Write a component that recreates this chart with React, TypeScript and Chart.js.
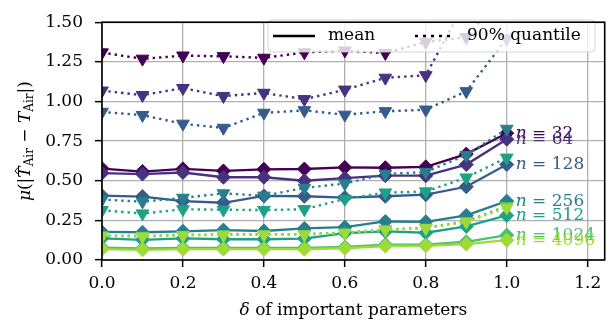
import React, { useEffect, useRef } from "react";
import { Chart, registerables } from "chart.js";

Chart.register(...registerables);

const deltas = [0, 0.1, 0.2, 0.3, 0.4, 0.5, 0.6, 0.7, 0.8, 0.9, 1.0];
const sampleSizes = [32, 64, 128, 256, 512, 1024, 4096];
const seriesColors = ["#440154", "#46327e", "#365c8d", "#277f8e", "#1fa187", "#4ac16d", "#a0da39"];

const mean32 = [0.577, 0.558, 0.575, 0.562, 0.572, 0.574, 0.584, 0.582, 0.588, 0.668, 0.8];
const mean64 = [0.548, 0.542, 0.552, 0.522, 0.522, 0.5, 0.516, 0.532, 0.532, 0.602, 0.762];
const mean128 = [0.406, 0.4, 0.371, 0.361, 0.404, 0.402, 0.394, 0.402, 0.412, 0.462, 0.602];
const mean256 = [0.177, 0.175, 0.181, 0.189, 0.183, 0.199, 0.207, 0.243, 0.241, 0.281, 0.371];
const mean512 = [0.137, 0.127, 0.136, 0.131, 0.131, 0.135, 0.17, 0.18, 0.172, 0.212, 0.281];
const mean1024 = [0.078, 0.073, 0.077, 0.077, 0.077, 0.077, 0.082, 0.097, 0.097, 0.115, 0.157];
const mean4096 = [0.068, 0.064, 0.068, 0.068, 0.068, 0.068, 0.074, 0.088, 0.09, 0.1, 0.125];

const q32 = [1.309, 1.269, 1.289, 1.285, 1.275, 1.309, 1.321, 1.305, 1.375, 1.405, 1.7];
const q64 = [1.068, 1.04, 1.084, 1.034, 1.054, 1.014, 1.074, 1.149, 1.165, 1.64, 2.0];
const q128 = [0.934, 0.914, 0.859, 0.833, 0.928, 0.944, 0.916, 0.938, 0.948, 1.064, 1.396];
const q256 = [0.381, 0.368, 0.392, 0.42, 0.405, 0.455, 0.482, 0.542, 0.555, 0.662, 0.827];
const q512 = [0.314, 0.293, 0.32, 0.317, 0.315, 0.32, 0.385, 0.425, 0.432, 0.52, 0.645];
const q1024 = [0.155, 0.152, 0.158, 0.162, 0.162, 0.163, 0.173, 0.193, 0.203, 0.245, 0.34];
const q4096 = [0.15, 0.148, 0.155, 0.158, 0.16, 0.16, 0.17, 0.19, 0.2, 0.24, 0.33];

const meanSeries = [mean32, mean64, mean128, mean256, mean512, mean1024, mean4096];
const quantileSeries = [q32, q64, q128, q256, q512, q1024, q4096];

const xTicks = [0, 0.2, 0.4, 0.6, 0.8, 1.0, 1.2];
const yTicks = [0, 0.25, 0.5, 0.75, 1.0, 1.25, 1.5];

const FAMILY = '"DejaVu Serif", serif';
const F = (size: number, italic = false) => `${italic ? "italic " : ""}${size}px ${FAMILY}`;

type Seg = { t: string; f: string; dy?: number; hat?: boolean };

function drawSegs(ctx: CanvasRenderingContext2D, segs: Seg[], x0: number, y0: number, align: "left" | "center", color: string) {
  let total = 0;
  const widths = segs.map((s) => {
    ctx.font = s.f;
    const w = ctx.measureText(s.t).width;
    total += w;
    return w;
  });
  let x = align === "center" ? x0 - total / 2 : x0;
  ctx.fillStyle = color;
  ctx.strokeStyle = color;
  ctx.textAlign = "left";
  ctx.textBaseline = "middle";
  segs.forEach((s, i) => {
    ctx.font = s.f;
    ctx.fillText(s.t, x, y0 + (s.dy || 0));
    if (s.hat) {
      const w = widths[i];
      ctx.lineWidth = 1;
      ctx.beginPath();
      ctx.moveTo(x + w * 0.3, y0 - 8);
      ctx.lineTo(x + w * 0.6, y0 - 11);
      ctx.lineTo(x + w * 0.9, y0 - 8);
      ctx.stroke();
    }
    x += widths[i];
  });
}

const overlayPlugin = {
  id: "overlay",
  afterDatasetsDraw(chart: any) {
    const { ctx, chartArea, scales } = chart;
    const { left, right, top, bottom } = chartArea;
    const xs = scales.x;
    const ys = scales.y;
    ctx.save();

    // series labels at right end
    sampleSizes.forEach((n, i) => {
      const vals = meanSeries[i];
      const px = xs.getPixelForValue(deltas[deltas.length - 1]) + 9;
      const py = ys.getPixelForValue(vals[vals.length - 1]);
      drawSegs(ctx, [{ t: "n", f: F(17, true) }, { t: " = " + n, f: F(17) }], px, py, "left", seriesColors[i]);
    });

    // legend box
    ctx.beginPath();
    (ctx as any).roundRect(268, 20, 327, 32, 4);
    ctx.fillStyle = "rgba(255,255,255,0.8)";
    ctx.fill();
    ctx.strokeStyle = "rgba(204,204,204,0.8)";
    ctx.lineWidth = 1;
    ctx.stroke();
    ctx.strokeStyle = "#000";
    ctx.lineWidth = 2.5;
    ctx.setLineDash([]);
    ctx.beginPath();
    ctx.moveTo(273, 36);
    ctx.lineTo(315, 36);
    ctx.stroke();
    ctx.setLineDash([3, 5]);
    ctx.beginPath();
    ctx.moveTo(415, 36);
    ctx.lineTo(453, 36);
    ctx.stroke();
    ctx.setLineDash([]);
    drawSegs(ctx, [{ t: "mean", f: F(17) }], 328, 36, "left", "#000");
    drawSegs(ctx, [{ t: "90% quantile", f: F(17) }], 467, 36, "left", "#000");

    // spines
    ctx.strokeStyle = "#000";
    ctx.lineWidth = 1.6;
    ctx.strokeRect(left, top, right - left, bottom - top);

    // x title
    drawSegs(ctx, [{ t: "δ", f: F(17, true) }, { t: " of important parameters", f: F(17) }], (left + right) / 2, 311, "center", "#000");

    // y title
    ctx.translate(26, (top + bottom) / 2);
    ctx.rotate(-Math.PI / 2);
    drawSegs(
      ctx,
      [
        { t: "μ", f: F(17, true) },
        { t: "(|", f: F(17) },
        { t: "T", f: F(17, true), hat: true },
        { t: "Air", f: F(12), dy: 4 },
        { t: " − ", f: F(17) },
        { t: "T", f: F(17, true) },
        { t: "Air", f: F(12), dy: 4 },
        { t: "|)", f: F(17) },
      ],
      0,
      0,
      "center",
      "#000"
    );
    ctx.restore();
  },
};

export default function App() {
  const ref = useRef<HTMLCanvasElement | null>(null);
  useEffect(() => {
    if (!ref.current) return;
    Chart.defaults.font.family = FAMILY;
    Chart.defaults.font.size = 17;
    Chart.defaults.color = "#000";

    const datasets: any[] = [];
    sampleSizes.forEach((n, i) => {
      datasets.push({
        label: `mean n=${n}`,
        data: deltas.map((d, k) => ({ x: d, y: meanSeries[i][k] })),
        borderColor: seriesColors[i],
        backgroundColor: seriesColors[i],
        borderWidth: 2.3,
        pointStyle: "rectRot",
        pointRadius: 7,
        pointBorderWidth: 1,
        clip: 0,
        order: -(i * 2),
      });
      datasets.push({
        label: `q90 n=${n}`,
        data: deltas.map((d, k) => ({ x: d, y: quantileSeries[i][k] })),
        borderColor: seriesColors[i],
        backgroundColor: seriesColors[i],
        borderWidth: 2.4,
        borderDash: [2.4, 4],
        pointStyle: "triangle",
        pointRotation: 180,
        pointRadius: 7.3,
        pointBorderWidth: 1,
        clip: 0,
        order: -(i * 2 + 1),
      });
    });

    const chart = new Chart(ref.current, {
      type: "line",
      data: { datasets },
      options: {
        animation: false,
        responsive: false,
        layout: { padding: { top: 11, right: 8, left: 0, bottom: 0 } },
        plugins: { legend: { display: false }, tooltip: { enabled: false } },
        elements: { line: { tension: 0 } },
        scales: {
          x: {
            type: "linear",
            min: 0,
            max: 1.242,
            afterBuildTicks: (s: any) => {
              s.ticks = xTicks.map((v) => ({ value: v }));
            },
            afterFit: (s: any) => {
              s.height = 67;
            },
            ticks: { callback: (v: any) => Number(v).toFixed(1), padding: 6, maxRotation: 0, font: { size: 17 } },
            grid: { color: "#b0b0b0", lineWidth: 1.3, tickColor: "#000", tickLength: 7, tickWidth: 1.5 },
            border: { display: false },
          },
          y: {
            type: "linear",
            min: 0,
            max: 1.5,
            afterBuildTicks: (s: any) => {
              s.ticks = yTicks.map((v) => ({ value: v }));
            },
            afterFit: (s: any) => {
              s.width = 102;
            },
            ticks: { callback: (v: any) => Number(v).toFixed(2), padding: 12, font: { size: 17 } },
            grid: { color: "#b0b0b0", lineWidth: 1.3, tickColor: "#000", tickLength: 7, tickWidth: 1.5 },
            border: { display: false },
          },
        },
      },
      plugins: [overlayPlugin],
    });
    return () => chart.destroy();
  }, []);

  return (
    <div style={{ position: "fixed", left: 0, top: 0, width: 613, height: 327, background: "#fff" }}>
      <canvas ref={ref} width={613} height={327} style={{ width: 613, height: 327 }} />
    </div>
  );
}
